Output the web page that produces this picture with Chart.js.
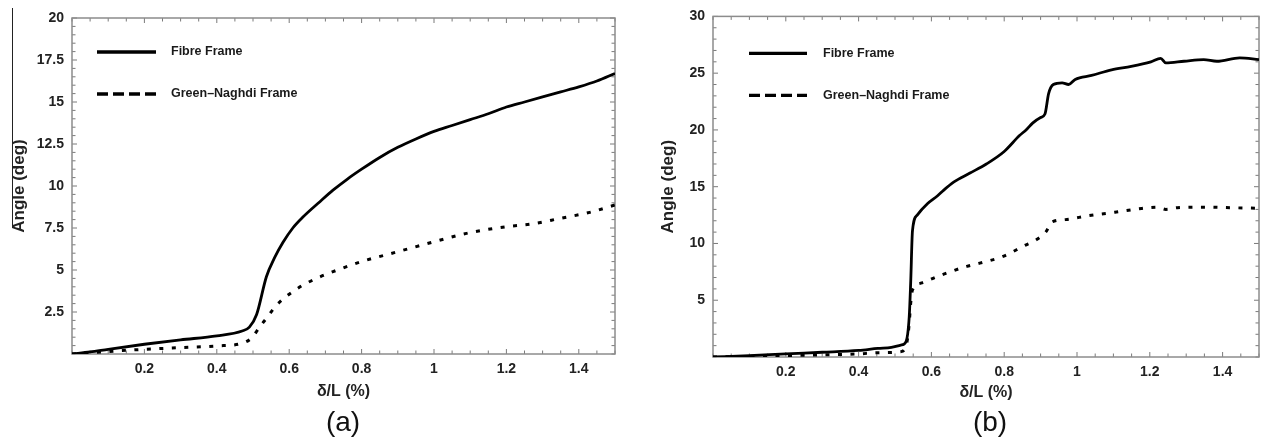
<!DOCTYPE html>
<html>
<head>
<meta charset="utf-8">
<script src="https://cdn.jsdelivr.net/npm/chart.js"></script>
<style>
  body { margin: 0; background: #fff; width: 1266px; height: 446px; position: relative; overflow: hidden; }
  canvas { position: absolute; top: 0; }
  .panel { position: absolute; width: 100px; text-align: center; font: 28px 'Liberation Sans', Arial, sans-serif; color: #111; line-height: 32px; top: 406px; }
  .scanline { position: absolute; left: 12px; top: 8px; width: 1px; height: 220px; background: #222; }
</style>
</head>
<body>
<div class="scanline"></div>
<canvas id="chartA" width="630" height="446" style="left:0"></canvas>
<canvas id="chartB" width="636" height="446" style="left:630px"></canvas>
<div class="panel" style="left:293px">(a)</div>
<div class="panel" style="left:940px">(b)</div>
<script>
// panel (a)
const fibreA_x = [0, 0.05, 0.1, 0.2, 0.3, 0.4, 0.47, 0.49, 0.51, 0.537, 0.56, 0.583, 0.61, 0.638, 0.684, 0.721, 0.76, 0.8, 0.85, 0.9, 0.95, 1.0, 1.05, 1.1, 1.15, 1.2, 1.25, 1.3, 1.35, 1.4, 1.45, 1.5]
const fibreA_y = [0, 0.12, 0.28, 0.58, 0.84, 1.08, 1.37, 1.6, 2.35, 4.6, 5.75, 6.65, 7.5, 8.15, 9.05, 9.75, 10.4, 11.0, 11.7, 12.3, 12.8, 13.25, 13.6, 13.95, 14.3, 14.7, 15.0, 15.3, 15.6, 15.9, 16.25, 16.7]
const greenA_x = [0, 0.1, 0.2, 0.3, 0.4, 0.47, 0.497, 0.519, 0.537, 0.56, 0.583, 0.61, 0.638, 0.675, 0.721, 0.8, 0.9, 1.0, 1.09, 1.2, 1.27, 1.35, 1.43, 1.5]
const greenA_y = [0, 0.15, 0.28, 0.38, 0.48, 0.64, 0.97, 1.63, 2.12, 2.78, 3.27, 3.71, 4.1, 4.5, 4.9, 5.5, 6.09, 6.68, 7.18, 7.58, 7.74, 8.08, 8.43, 8.87]

// panel (b)
const fibreB_x = [0, 0.1, 0.2, 0.3, 0.4, 0.453, 0.49, 0.516, 0.53, 0.539, 0.543, 0.548, 0.561, 0.589, 0.617, 0.634, 0.661, 0.706, 0.751, 0.8, 0.842, 0.86, 0.878, 0.9, 0.912, 0.922, 0.935, 0.959, 0.977, 0.995, 1.04, 1.095, 1.149, 1.203, 1.23, 1.244, 1.294, 1.348, 1.384, 1.447, 1.5]
const fibreB_y = [0, 0.12, 0.28, 0.42, 0.58, 0.76, 0.85, 1.05, 1.34, 3.5, 6.46, 11.1, 12.5, 13.5, 14.2, 14.7, 15.4, 16.2, 17.0, 18.1, 19.5, 20.0, 20.6, 21.1, 21.4, 23.2, 24.0, 24.15, 24.0, 24.45, 24.8, 25.3, 25.6, 26.0, 26.3, 25.9, 26.05, 26.2, 26.05, 26.35, 26.2]
const greenB_x = [0, 0.1, 0.2, 0.3, 0.4, 0.453, 0.516, 0.533, 0.539, 0.543, 0.548, 0.571, 0.634, 0.697, 0.733, 0.797, 0.855, 0.887, 0.914, 0.932, 0.968, 1.032, 1.104, 1.167, 1.221, 1.244, 1.276, 1.348, 1.42, 1.5]
const greenB_y = [0, 0.06, 0.12, 0.19, 0.27, 0.38, 0.47, 1.34, 2.95, 4.7, 5.9, 6.5, 7.3, 7.98, 8.27, 8.86, 9.8, 10.3, 11.0, 11.9, 12.1, 12.45, 12.75, 13.04, 13.2, 13.0, 13.15, 13.2, 13.15, 13.1]

const seriesLabels = ['Fibre Frame', 'Green\u2013Naghdi Frame']
const xLabels = [0.2, 0.4, 0.6, 0.8, 1, 1.2, 1.4]
const yLabelsA = [2.5, 5, 7.5, 10, 12.5, 15, 17.5, 20]
const yLabelsB = [5, 10, 15, 20, 25, 30]

Chart.defaults.font.family = "'Liberation Sans', Arial, sans-serif"
Chart.defaults.color = '#222'

const pts = (xs, ys) => xs.map((x, i) => ({ x: x, y: ys[i] }))
const near = (v, list) => list.some(l => Math.abs(l - v) < 1e-6)

// frame, inward ticks on all four sides, and the in-plot legend
const framePlugin = {
	id: 'frame',
	beforeDatasetsDraw(chart, args, opts) {
		const { ctx, chartArea: a, scales } = chart
		ctx.save()
		ctx.strokeStyle = '#7a7a7a'
		ctx.lineWidth = 1
		scales.x.ticks.forEach(t => {
			const p = scales.x.getPixelForValue(t.value)
			const len = t.label !== '' ? 5 : 3.5
			ctx.beginPath()
			ctx.moveTo(p, a.bottom); ctx.lineTo(p, a.bottom - len)
			ctx.moveTo(p, a.top); ctx.lineTo(p, a.top + len)
			ctx.stroke()
		})
		scales.y.ticks.forEach(t => {
			const p = scales.y.getPixelForValue(t.value)
			const len = t.label !== '' ? 5 : 3.5
			ctx.beginPath()
			ctx.moveTo(a.left, p); ctx.lineTo(a.left + len, p)
			ctx.moveTo(a.right, p); ctx.lineTo(a.right - len, p)
			ctx.stroke()
		})
		ctx.strokeStyle = '#8c8c8c'
		ctx.lineWidth = 1.5
		ctx.strokeRect(a.left, a.top, a.right - a.left, a.bottom - a.top)
		ctx.restore()
	},
	afterDatasetsDraw(chart, args, opts) {
		const { ctx, chartArea: a } = chart
		ctx.save()
		ctx.font = "bold 12.5px 'Liberation Sans', Arial, sans-serif"
		ctx.textBaseline = 'middle'
		chart.data.datasets.forEach((ds, i) => {
			const y = a.top + opts.rows[i]
			const x0 = a.left + opts.sampleX
			ctx.strokeStyle = ds.borderColor
			ctx.lineWidth = 3.4
			ctx.setLineDash(ds.legendDash)
			ctx.beginPath()
			ctx.moveTo(x0, y); ctx.lineTo(x0 + opts.sampleW, y)
			ctx.stroke()
			ctx.setLineDash([])
			ctx.fillStyle = '#1a1a1a'
			ctx.fillText(ds.label, x0 + opts.sampleW + opts.gap, y)
		})
		ctx.restore()
	}
}

function makeChart(id, fx, fy, gx, gy, yMax, yStep, yLabels, pad, yWidth, xHeight, legend) {
	return new Chart(document.getElementById(id), {
		type: 'line',
		data: {
			datasets: [{
				label: seriesLabels[0],
				data: pts(fx, fy),
				borderColor: '#000',
				borderWidth: 2.8,
				legendDash: []
			}, {
				label: seriesLabels[1],
				data: pts(gx, gy),
				borderColor: '#000',
				borderWidth: 3,
				borderDash: [4, 8.5],
				legendDash: [11, 5]
			}]
		},
		options: {
			responsive: false,
			animation: false,
			parsing: false,
			elements: {
				point: { radius: 0 },
				line: { cubicInterpolationMode: 'monotone', borderCapStyle: 'butt' }
			},
			layout: { padding: pad },
			plugins: {
				legend: { display: false },
				tooltip: { enabled: false },
				frame: legend
			},
			scales: {
				x: {
					type: 'linear',
					min: 0,
					max: 1.5,
					afterFit: s => { s.height = xHeight },
					grid: { display: false, drawTicks: false },
					border: { display: false },
					ticks: {
						stepSize: 0.05,
						autoSkip: false,
						maxRotation: 0,
						padding: 7,
						font: { size: 14, weight: 'bold' },
						callback: v => near(v, xLabels) ? String(Math.round(v * 10) / 10) : ''
					},
					title: { display: true, text: '\u03b4/L (%)', font: { size: 16, weight: 'bold' }, padding: 0 }
				},
				y: {
					type: 'linear',
					min: 0,
					max: yMax,
					afterFit: s => { s.width = yWidth },
					grid: { display: false, drawTicks: false },
					border: { display: false },
					ticks: {
						stepSize: yStep,
						autoSkip: false,
						padding: 8,
						font: { size: 14, weight: 'bold' },
						callback: v => near(v, yLabels) ? String(v) : ''
					},
					title: { display: true, text: 'Angle (deg)', font: { size: 17, weight: 'bold' }, padding: 0 }
				}
			}
		},
		plugins: [framePlugin]
	})
}

makeChart('chartA', fibreA_x, fibreA_y, greenA_x, greenA_y, 20, 0.5, yLabelsA,
	{ left: 9, top: 18, right: 15, bottom: 45 }, 63, 47,
	{ sampleX: 25, sampleW: 59, gap: 15, rows: [34, 76] })

makeChart('chartB', fibreB_x, fibreB_y, greenB_x, greenB_y, 30, 1, yLabelsB,
	{ left: 28, top: 15, right: 1, bottom: 44 }, 55, 45,
	{ sampleX: 36, sampleW: 58, gap: 16, rows: [37, 79] })
</script>
</body>
</html>
